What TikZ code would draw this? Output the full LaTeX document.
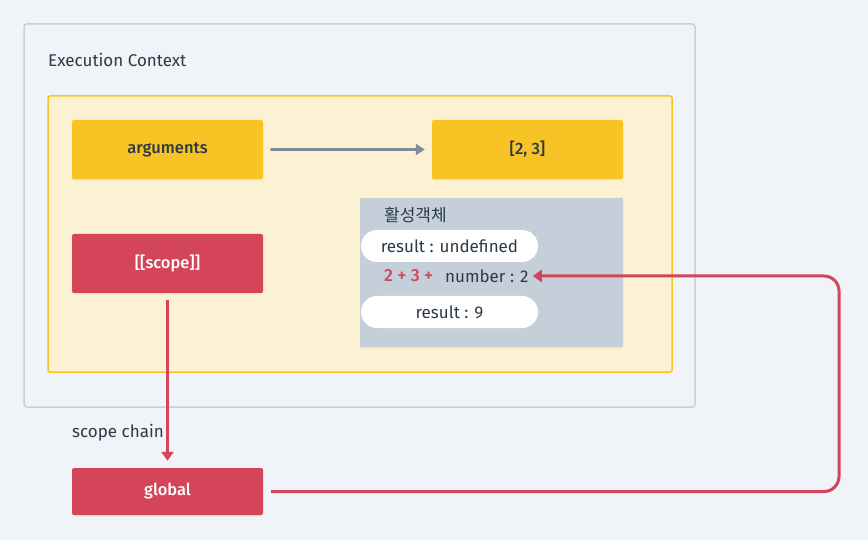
\documentclass[tikz,border=0pt]{standalone}
\usepackage{fontspec}
\setmainfont{Fira Sans}
\newfontfamily\med{Fira Sans Medium}
\newfontfamily\kr{Noto Sans CJK KR}
\usetikzlibrary{arrows.meta,shadows}
\definecolor{bg}{HTML}{F0F3F7}
\definecolor{outerline}{HTML}{C8D1DA}
\definecolor{yelfill}{HTML}{FDF1D3}
\definecolor{gold}{HTML}{F7C325}
\definecolor{crim}{HTML}{D4455A}
\definecolor{slate}{HTML}{C4CFD9}
\definecolor{ink}{HTML}{2C3A47}
\definecolor{arrowgray}{HTML}{7F8C96}
\begin{document}
\begin{tikzpicture}[x=1pt,y=-1pt,
  font=\fontsize{17}{19}\selectfont,
  every node/.style={text=ink},
  box/.style={rectangle, rounded corners=2pt, minimum width=191pt, minimum height=59pt, inner sep=0pt,
     font=\fontsize{16.5}{19}\med,
     drop shadow={opacity=0.12, shadow xshift=0pt, shadow yshift=-1.5pt}},
  goldbox/.style={box, fill=gold},
  redbox/.style={box, fill=crim, text=white},
  pill/.style={fill=white, rounded corners=16pt, minimum width=177pt, minimum height=32pt, inner sep=0pt},
  lbl/.style={anchor=west, inner sep=0pt},
  redarrow/.style={draw=crim, line width=3pt, -{Triangle[length=9pt,width=12pt]}},
  grayarrow/.style={draw=arrowgray, line width=2.7pt, line cap=round, -{Triangle[length=9pt,width=11pt]}}
]
\useasboundingbox[fill=bg] (0,0) rectangle (868,540);
% outer execution context
\draw[outerline, line width=1.5pt, fill=bg, rounded corners=3pt] (24,24) rectangle (695,407);
\node[lbl] (ec) at (48,60) {Execution Context};
% yellow area
\draw[gold, line width=1.5pt, fill=yelfill, rounded corners=2pt] (48,96) rectangle (672,372);
% boxes
\node[goldbox] (args) at (167.5,149.5) {arguments};
\node[goldbox] (arr) at (527.5,149.5) {[2, 3]};
\node[redbox] (scope) at (167.5,263.5) {[[scope]]};
\node[redbox, minimum height=47pt] (global) at (167.5,491.5) {global};
% activation object
\node[fill=slate, minimum width=263pt, minimum height=149pt, inner sep=0pt, rounded corners=1pt,
  drop shadow={opacity=0.08, shadow xshift=0pt, shadow yshift=-1.5pt}] (ao) at (491.5,272.5) {};
\node[lbl] (aotitle) at (384,215) {\kr 활성객체};
\node[pill] (r1) at (449.5,246) {result : undefined};
\node[lbl, text=crim, font=\fontsize{17.5}{19}\med] (plus) at (384,276) {2 + 3 +};
\node[lbl] (num) at (445,276) {number : 2};
\node[pill] (r2) at (449.5,312) {result : 9};
\node[lbl] (chain) at (72,433) {scope chain};
% connectors
\draw[grayarrow] ([xshift=8pt]args.east) -- ([xshift=-7pt]arr.west);
\draw[redarrow] ([yshift=-7pt]scope.south) -- ([yshift=7pt]global.north);
\draw[redarrow, rounded corners=15pt] ([xshift=8pt]global.east) -- (839,491.5) -- (839,276) -- ([xshift=4pt]num.east);
\end{tikzpicture}
\end{document}
